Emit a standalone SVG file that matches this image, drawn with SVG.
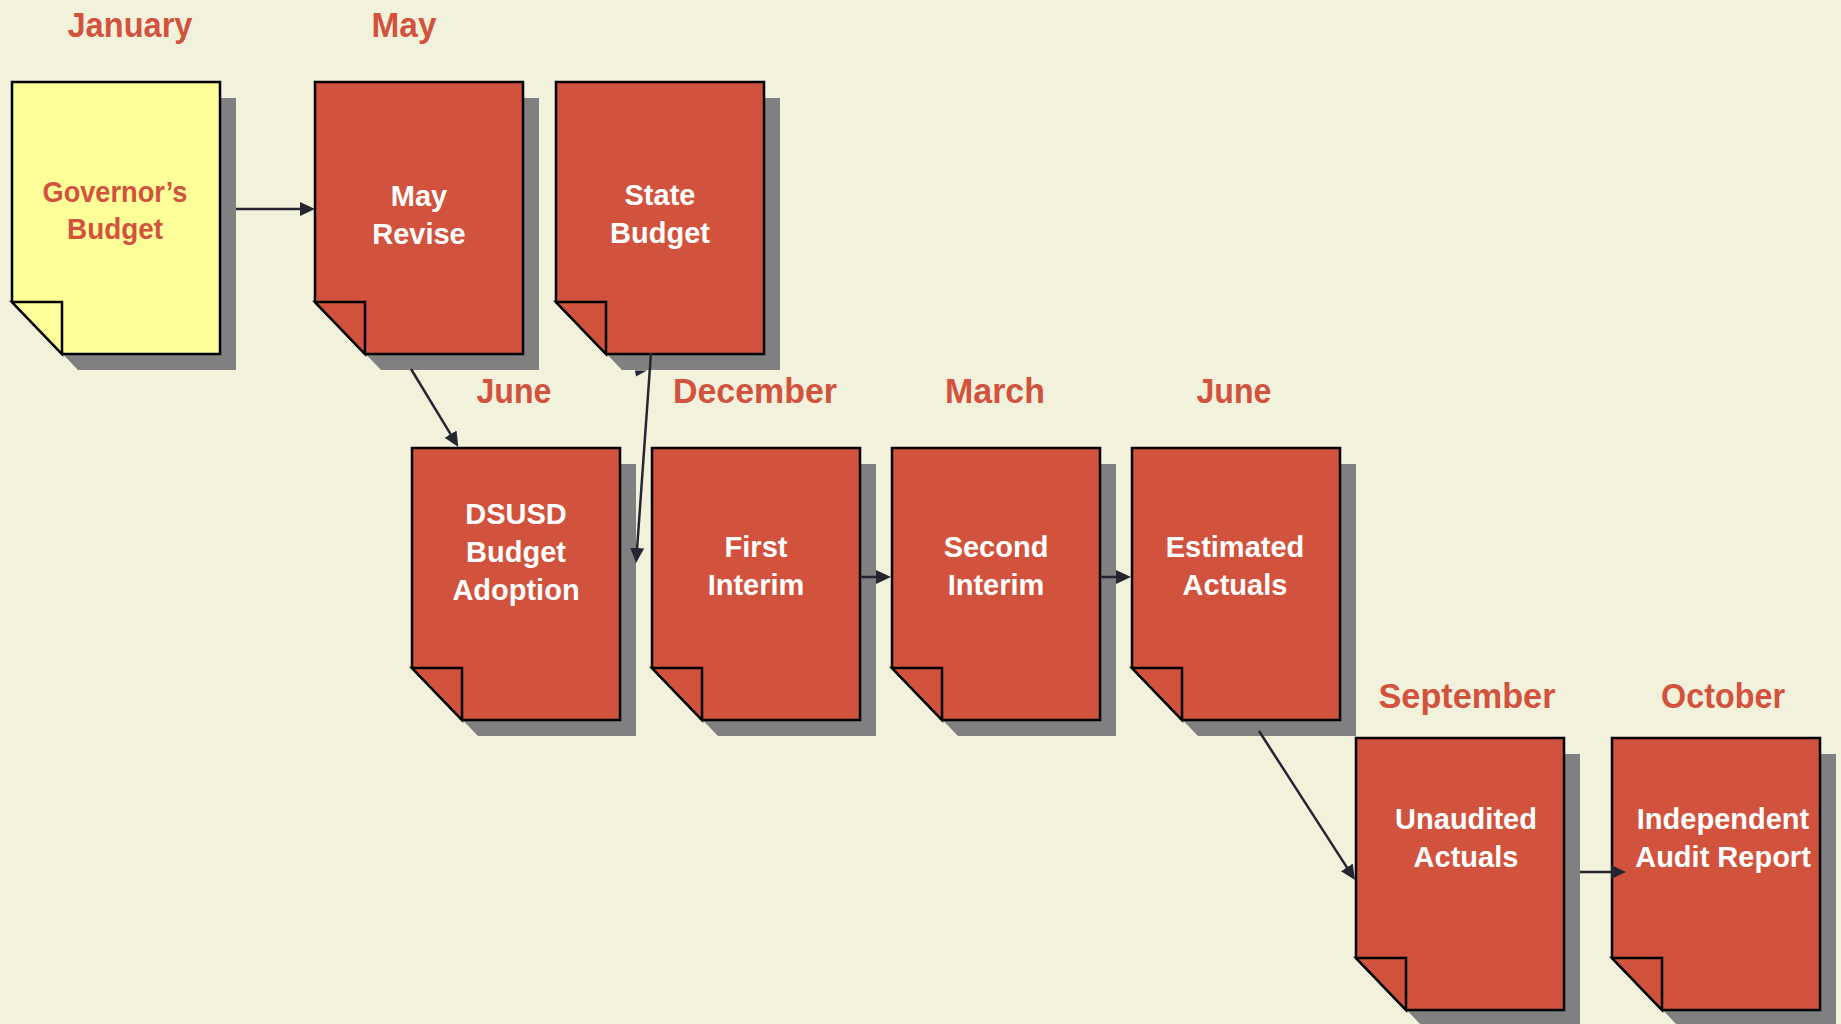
<svg xmlns="http://www.w3.org/2000/svg" xmlns:xlink="http://www.w3.org/1999/xlink" width="1841" height="1024" viewBox="0 0 1841 1024">
<style>
.bg{fill:#F2F2DC}
.shadow{fill:#808080;stroke:none}
.doc{fill:#D2533D;stroke:#000;stroke-width:2.5;stroke-linejoin:miter}
.docy{fill:#FFFF99;stroke:#000;stroke-width:2.5;stroke-linejoin:miter}
.month{font-family:"Liberation Sans",Arial,sans-serif;font-weight:bold;font-size:35px;fill:#D2533D;text-anchor:middle}
.lbl{font-family:"Liberation Sans",Arial,sans-serif;font-weight:bold;font-size:29px;fill:#FFFFFF;text-anchor:middle}
.lbly{font-family:"Liberation Sans",Arial,sans-serif;font-weight:bold;font-size:30px;fill:#D2533D;text-anchor:middle}
.conn{stroke:#262633;stroke-width:2.5;fill:none}
</style>
<defs>
<path id="doc" d="M0,0 H208 V272 H50 L0,220 Z"/>
<path id="fold" d="M0,220 H50 V272 Z"/>
<marker id="arr" markerUnits="userSpaceOnUse" markerWidth="15" markerHeight="14" viewBox="0 0 15 14" refX="3" refY="7" orient="auto">
<path d="M0,0 L15,7 L0,14 Z" fill="#262633"/>
</marker>
</defs>
<rect class="bg" x="0" y="0" width="1841" height="1024"/>

<g id="months">
<text class="month" x="130" y="37" textLength="125" lengthAdjust="spacingAndGlyphs">January</text>
<text class="month" x="404" y="37" textLength="65" lengthAdjust="spacingAndGlyphs">May</text>
<text class="month" x="514" y="403" textLength="75" lengthAdjust="spacingAndGlyphs">June</text>
<text class="month" x="755" y="403" textLength="164" lengthAdjust="spacingAndGlyphs">December</text>
<text class="month" x="995" y="403" textLength="100" lengthAdjust="spacingAndGlyphs">March</text>
<text class="month" x="1234" y="403" textLength="75" lengthAdjust="spacingAndGlyphs">June</text>
<text class="month" x="1467" y="708" textLength="177" lengthAdjust="spacingAndGlyphs">September</text>
<text class="month" x="1723" y="708" textLength="124" lengthAdjust="spacingAndGlyphs">October</text>
</g>

<g id="node-governors-budget" transform="translate(12,82)">
<use href="#doc" x="16" y="16" class="shadow"/>
<use href="#doc" class="docy"/>
<use href="#fold" class="docy"/>
<text class="lbly" x="103" y="120" textLength="145" lengthAdjust="spacingAndGlyphs">Governor’s</text>
<text class="lbly" x="103" y="157" textLength="96" lengthAdjust="spacingAndGlyphs">Budget</text>
</g>

<g id="node-may-revise" transform="translate(315,82)">
<use href="#doc" x="16" y="16" class="shadow"/>
<use href="#doc" class="doc"/>
<use href="#fold" class="doc"/>
<text class="lbl" x="104" y="124">May</text>
<text class="lbl" x="104" y="162">Revise</text>
</g>

<g id="node-state-budget" transform="translate(556,82)">
<use href="#doc" x="16" y="16" class="shadow"/>
<use href="#doc" class="doc"/>
<use href="#fold" class="doc"/>
<text class="lbl" x="104" y="123">State</text>
<text class="lbl" x="104" y="161">Budget</text>
</g>

<g id="node-dsusd-budget-adoption" transform="translate(412,448)">
<use href="#doc" x="16" y="16" class="shadow"/>
<use href="#doc" class="doc"/>
<use href="#fold" class="doc"/>
<text class="lbl" x="104" y="76">DSUSD</text>
<text class="lbl" x="104" y="114">Budget</text>
<text class="lbl" x="104" y="152">Adoption</text>
</g>

<g id="node-first-interim" transform="translate(652,448)">
<use href="#doc" x="16" y="16" class="shadow"/>
<use href="#doc" class="doc"/>
<use href="#fold" class="doc"/>
<text class="lbl" x="104" y="109">First</text>
<text class="lbl" x="104" y="147">Interim</text>
</g>

<g id="node-second-interim" transform="translate(892,448)">
<use href="#doc" x="16" y="16" class="shadow"/>
<use href="#doc" class="doc"/>
<use href="#fold" class="doc"/>
<text class="lbl" x="104" y="109">Second</text>
<text class="lbl" x="104" y="147">Interim</text>
</g>

<g id="node-estimated-actuals" transform="translate(1132,448)">
<use href="#doc" x="16" y="16" class="shadow"/>
<use href="#doc" class="doc"/>
<use href="#fold" class="doc"/>
<text class="lbl" x="103" y="109">Estimated</text>
<text class="lbl" x="103" y="147">Actuals</text>
</g>

<g id="node-unaudited-actuals" transform="translate(1356,738)">
<use href="#doc" x="16" y="16" class="shadow"/>
<use href="#doc" class="doc"/>
<use href="#fold" class="doc"/>
<text class="lbl" x="110" y="91">Unaudited</text>
<text class="lbl" x="110" y="129">Actuals</text>
</g>

<g id="node-independent-audit-report" transform="translate(1612,738)">
<use href="#doc" x="16" y="16" class="shadow"/>
<use href="#doc" class="doc"/>
<use href="#fold" class="doc"/>
<text class="lbl" x="111" y="91">Independent</text>
<text class="lbl" x="111" y="129">Audit Report</text>
</g>

<g id="connectors">
<line class="conn" x1="236" y1="209" x2="303" y2="209" marker-end="url(#arr)"/>
<line class="conn" x1="411" y1="369" x2="452.1" y2="436.7" marker-end="url(#arr)"/>
<line class="conn" x1="651" y1="353" x2="636.9" y2="551" marker-end="url(#arr)"/>
<line class="conn" x1="860" y1="577" x2="879" y2="577" marker-end="url(#arr)"/>
<line class="conn" x1="1100" y1="577" x2="1119" y2="577" marker-end="url(#arr)"/>
<line class="conn" x1="1259" y1="731" x2="1348.5" y2="869.9" marker-end="url(#arr)"/>
<line class="conn" x1="1580" y1="872" x2="1614" y2="872" marker-end="url(#arr)"/>
<polygon points="635,370.5 647,370.5 636,376.5" fill="#262633"/>
</g>
</svg>
